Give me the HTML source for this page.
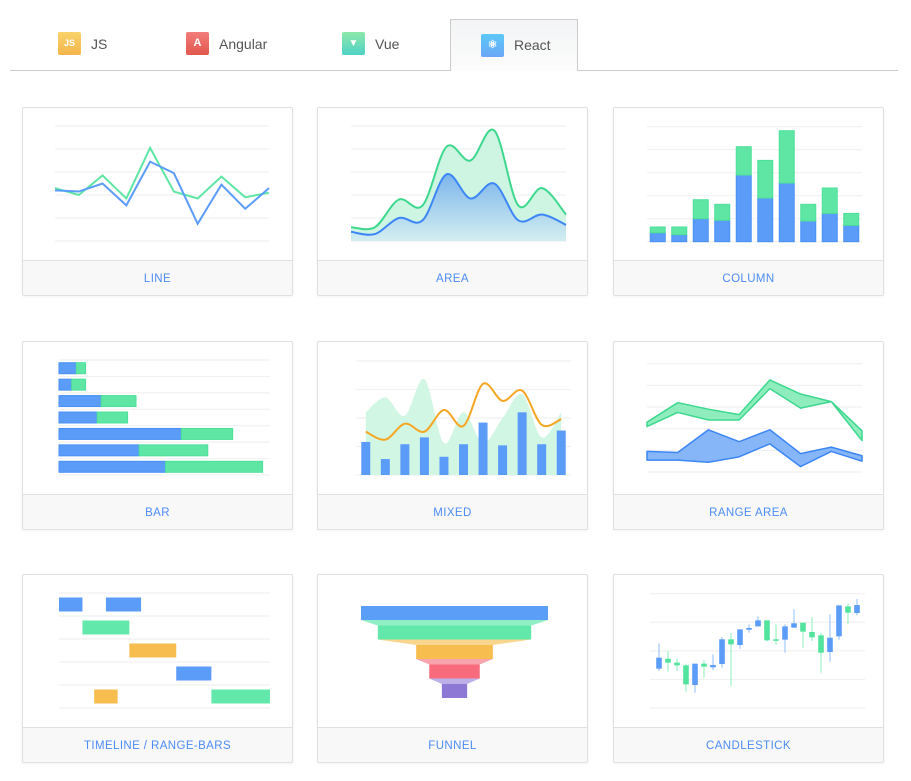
<!DOCTYPE html>
<html><head><meta charset="utf-8"><style>
*{box-sizing:border-box;margin:0;padding:0}
body{width:911px;height:781px;background:#fff;font-family:"Liberation Sans",sans-serif;position:relative;overflow:hidden}
.tabline{position:absolute;left:10px;top:70px;width:888px;height:1px;background:#ccc}
.tab{position:absolute;top:19px;height:52px;font-size:14px;color:#555;cursor:pointer}
.tab.active{left:450px;width:128px;border:1px solid #ccc;border-bottom:none;background:linear-gradient(#f3f4f5,#fcfcfc)}
.ico{position:absolute;width:23px;height:23px;border-radius:2px;color:#fff;font-size:8px;font-weight:bold;text-align:center;line-height:23px}
.lbl{position:absolute}
.card{position:absolute;width:271px;height:189px;border:1px solid #e0e0e0;border-radius:2px;background:#fff;box-shadow:0 1px 3px rgba(0,0,0,0.05)}
.card svg{position:absolute;left:0;top:0}
.foot{position:absolute;left:0;top:152px;width:269px;height:35px;background:#f8f8f8;border-top:1px solid #e0e0e0;text-align:center;line-height:36px;font-size:11.5px;color:#4d8cf5;letter-spacing:.4px;cursor:pointer}
</style></head><body>
<div class="tabline"></div>
<div class="tab" style="left:40px;width:100px"><div class="ico" style="left:18px;top:13px;background:linear-gradient(#f8d36a,#f3b54c);font-size:9px">JS</div><span class="lbl" style="left:51px;top:17px">JS</span></div>
<div class="tab" style="left:170px;width:120px"><div class="ico" style="left:16px;top:13px;background:linear-gradient(#f27d7b,#e2574c);font-size:11px">A</div><span class="lbl" style="left:49px;top:17px">Angular</span></div>
<div class="tab" style="left:325px;width:100px"><div class="ico" style="left:17px;top:13px;background:linear-gradient(#8de8a9,#4fd2c6);font-size:10px">▼</div><span class="lbl" style="left:50px;top:17px">Vue</span></div>
<div class="tab active"><div class="ico" style="left:30px;top:14px;background:linear-gradient(#5cc8f8,#6aa6f6);font-size:11px">⚛</div><span class="lbl" style="left:63px;top:17px">React</span></div>

<div class="card" style="left:22px;top:107px"><svg id="c1" width="271" height="152"></svg><div class="foot">LINE</div></div>
<div class="card" style="left:317px;top:107px"><svg id="c2" width="271" height="152"></svg><div class="foot">AREA</div></div>
<div class="card" style="left:613px;top:107px"><svg id="c3" width="271" height="152"></svg><div class="foot">COLUMN</div></div>
<div class="card" style="left:22px;top:341px"><svg id="c4" width="271" height="152"></svg><div class="foot">BAR</div></div>
<div class="card" style="left:317px;top:341px"><svg id="c5" width="271" height="152"></svg><div class="foot">MIXED</div></div>
<div class="card" style="left:613px;top:341px"><svg id="c6" width="271" height="152"></svg><div class="foot">RANGE AREA</div></div>
<div class="card" style="left:22px;top:574px"><svg id="c7" width="271" height="152"></svg><div class="foot">TIMELINE / RANGE-BARS</div></div>
<div class="card" style="left:317px;top:574px"><svg id="c8" width="271" height="152"></svg><div class="foot">FUNNEL</div></div>
<div class="card" style="left:613px;top:574px"><svg id="c9" width="271" height="152"></svg><div class="foot">CANDLESTICK</div></div>

<script>
// ---- data ----
const lineBlue=[44,43,50,31,69,59,15,49,28,46];
const lineGreen=[46,40,57,37,81,43,37,56,38,42];
const areaGreen=[12,12,36,31,82,70,96,31,46,23];
const areaBlue=[8,6,20,18,58,37,50,18,23,14];
const colBlue=[7.8,6.1,20,18.6,58,38,51,18,24.6,14.2];
const colGreen=[5,6.7,16.5,13.9,24.6,32.7,45.5,14.5,22.1,10.4];
const barBlue=[8.2,6,20,18.1,58,38,50.5];
const barGreen=[4.4,6.6,16.5,14.4,24.3,32.5,46];
const mixBars=[29,14,27,33,16,27,46,26,55,27,39];
const mixArea=[55,68,52,84,28,55,28,50,71,33,55];
const mixLine=[38,31,45,38,57,43,80,65,74,44,49];
const rangeGreenHi=[46,64,58,53,85,72,65,38];
const rangeGreenLo=[42,55,48,48,77,59,65,29];
const rangeBlueHi=[19,18,39,28,39,17,23,15];
const rangeBlueLo=[11,11,9,14,26,5,19,10];
const tlRows=[0,0,1,2,3,4,4];
const tlStart=[0,4,2,6,10,3,13];
const tlEnd=[2,7,6,10,13,5,18];
const tlColor=['b','b','g','o','b','o','g'];
const funnelVals=[100,82,41,27,13.5];
const cOpen=[34.4,43.1,39.7,37.3,20.1,38.8,35.6,38.5,60.1,55.1,68.5,71.4,76.7,60.1,59.8,70.3,74.6,66.5,63.6,49,62.7,88.9,83.1];
const cClose=[44,39.7,37.3,20.7,38.8,36.2,37.6,60.1,55.7,68.8,70,76.7,59.2,58.9,71.4,74.1,66.8,61.8,48.4,61.5,89.8,83.4,90.1];
const cHigh=[56.6,49.9,43.4,38.8,38.8,41.7,46.9,62.1,65.6,68.8,73.2,80.2,76.7,73.2,73.2,86.3,74.6,79.6,65.6,81.9,89.8,91.5,95.3];
const cLow=[32.4,31.8,32.4,14.3,13.4,26.5,33.2,35.3,19.2,51.9,65.9,71.4,58.3,55.1,48.4,70.3,52.8,58.6,30.9,40.5,59.8,73.2,81];

const NS='http://www.w3.org/2000/svg';
const BLUE='#5b9cf8',BLUES='#3d86f5',GREEN='#5fe6a4',GREENS='#3dd88e',ORANGE='#f7bd4f';
function el(svg,tag,attrs){const e=document.createElementNS(NS,tag);for(const k in attrs)e.setAttribute(k,attrs[k]);svg.appendChild(e);return e;}
function lin(d0,d1,r0,r1){return v=>r0+(v-d0)/(d1-d0)*(r1-r0);}
function hgrid(svg,x0,x1,y0,y1,n){for(let i=0;i<=n;i++){const y=y0+(y1-y0)*i/n;const l=el(svg,'line',{x1:x0,x2:x1,y1:y,y2:y,stroke:'#f1f1f1','stroke-width':1.2});

}}
function smooth(p){let d=`M${p[0][0]},${p[0][1]}`;for(let i=0;i<p.length-1;i++){const a=p[Math.max(0,i-1)],b=p[i],c=p[i+1],e=p[Math.min(p.length-1,i+2)];
d+=` C${b[0]+(c[0]-a[0])/6},${b[1]+(c[1]-a[1])/6} ${c[0]-(e[0]-b[0])/6},${c[1]-(e[1]-b[1])/6} ${c[0]},${c[1]}`;}return d;}
function poly(p){return 'M'+p.map(q=>q[0]+','+q[1]).join(' L');}

// LINE
(function(){const s=document.getElementById('c1');hgrid(s,32,246,18,133,5);
const x=lin(0,lineBlue.length-1,32,246),y=lin(0,100,133,18);
const g=el(s,'path',{d:poly(lineGreen.map((v,i)=>[x(i),y(v)])),fill:'none',stroke:GREEN,'stroke-width':2});


const b=el(s,'path',{d:poly(lineBlue.map((v,i)=>[x(i),y(v)])),fill:'none',stroke:BLUE,'stroke-width':2});

})();

// AREA
(function(){const s=document.getElementById('c2');hgrid(s,33,248,18,133,5);
const defs=el(s,'defs',{});const lg=el(defs,'linearGradient',{id:'ag',x1:0,y1:0,x2:0,y2:1});el(lg,'stop',{offset:0,'stop-color':'#7cb5ec'});el(lg,'stop',{offset:1,'stop-color':'#d3eef0'});
const x=lin(0,areaGreen.length-1,33,248),y=lin(0,100,133,18);
const gp=areaGreen.map((v,i)=>[x(i),y(v)]),bp=areaBlue.map((v,i)=>[x(i),y(v)]);
const ga=el(s,'path',{d:smooth(gp)+` L248,133 L33,133 Z`,fill:'#cdf5e2'});


const ba=el(s,'path',{d:smooth(bp)+` L248,133 L33,133 Z`,fill:'url(#ag)'});


const gl=el(s,'path',{d:smooth(gp),fill:'none',stroke:GREENS,'stroke-width':2});


const bl=el(s,'path',{d:smooth(bp),fill:'none',stroke:BLUES,'stroke-width':2});

})();

// COLUMN
(function(){const s=document.getElementById('c3');hgrid(s,33,248,18.7,133.7,5);
const bw=215/colBlue.length,y=lin(0,100,133.7,18.7);
colBlue.forEach((v,i)=>{const cx=33+bw*(i+.5);
const r=el(s,'rect',{x:cx-7.5,y:y(v),width:15,height:133.7-y(v),fill:BLUE,stroke:'#4a90f6','stroke-width':1});


const t=v+colGreen[i];const r2=el(s,'rect',{x:cx-7.5,y:y(t),width:15,height:y(v)-y(t),fill:GREEN,stroke:'#4de09a','stroke-width':1});

});})();

// BAR
(function(){const s=document.getElementById('c4');hgrid(s,36,247,18,133,7);
const bh=115/barBlue.length,x=lin(0,100,36,247);
barBlue.forEach((v,i)=>{const cy=18+bh*(i+.5);
const r=el(s,'rect',{x:36,y:cy-5.5,width:x(v)-36,height:11,fill:BLUE,stroke:'#4a90f6'});


const r2=el(s,'rect',{x:x(v),y:cy-5.5,width:x(v+barGreen[i])-x(v),height:11,fill:GREEN,stroke:'#4de09a'});

});})();

// MIXED
(function(){const s=document.getElementById('c5');hgrid(s,38,253,19,133,4);
const bw=215/mixBars.length,y=lin(0,100,133,19),cx=i=>38+bw*(i+.5);
const ap=mixArea.map((v,i)=>[cx(i),y(v)]);
const a=el(s,'path',{d:smooth(ap)+` L${cx(mixArea.length-1)},133 L${cx(0)},133 Z`,fill:'#d2f6e4'});


mixBars.forEach((v,i)=>{const r=el(s,'rect',{x:cx(i)-4.5,y:y(v),width:9,height:133-y(v),fill:BLUE});

});
const l=el(s,'path',{d:smooth(mixLine.map((v,i)=>[cx(i),y(v)])),fill:'none',stroke:'#f5a623','stroke-width':2});

})();

// RANGE AREA
(function(){const s=document.getElementById('c6');hgrid(s,33,248,21.7,130,5);
const x=lin(0,rangeGreenHi.length-1,33,248),y=lin(0,100,130,21.7);
function band(hi,lo,fill,stroke,name){const p=hi.map((v,i)=>[x(i),y(v)]).concat(lo.map((v,i)=>[x(i),y(v)]).reverse());
const e=el(s,'path',{d:poly(p)+' Z',fill:fill,stroke:stroke,'stroke-width':1.5,'stroke-linejoin':'round'});

}
band(rangeGreenHi,rangeGreenLo,'#8eecbd',GREENS,'range-green');
band(rangeBlueHi,rangeBlueLo,'#86b6f8',BLUES,'range-blue');})();

// TIMELINE
(function(){const s=document.getElementById('c7');hgrid(s,36,247,18,133,5);
const rh=23,x=lin(0,18,36,247),cols={b:BLUE,g:'#62e8aa',o:ORANGE};
tlRows.forEach((r,i)=>{const cy=18+rh*(r+.5);
const e=el(s,'rect',{x:x(tlStart[i]),y:cy-7,width:x(tlEnd[i])-x(tlStart[i]),height:14,fill:cols[tlColor[i]]});

});})();

// FUNNEL
(function(){const s=document.getElementById('c8');
const cols=['#5b9ef8','#62e8aa','#f7bd4f','#f76b7c','#8e78d6'],light=['#9cc4fa','#90efc4','#f9d68f','#f8a4ae','#bdb0e8'];
const w=v=>v*1.87,c=136.5,step=19.5,bh=14,top=31;
funnelVals.forEach((v,i)=>{const yy=top+i*step;
if(i>0){const pw=w(funnelVals[i-1]),cw=w(v),py=yy-step+bh;
const t=el(s,'path',{d:`M${c-pw/2},${py} L${c+pw/2},${py} L${c+cw/2},${yy} L${c-cw/2},${yy} Z`,fill:light[i]});

}
const r=el(s,'rect',{x:c-w(v)/2,y:yy,width:w(v),height:bh,fill:cols[i]});

});})();

// CANDLESTICK
(function(){const s=document.getElementById('c9');hgrid(s,36,251,18.7,133,4);
const y=lin(0,100,133,18.7),bw=9;
cOpen.forEach((o,i)=>{const cx=40.5+bw*(i+.5),c=cClose[i],up=c>=o,col=up?BLUE:'#52e39c';
const w=el(s,'line',{x1:cx,x2:cx,y1:y(cHigh[i]),y2:y(cLow[i]),stroke:up?'#a9cbfb':'#a6f0cb','stroke-width':1.3});


const b=el(s,'rect',{x:cx-2.8,y:y(Math.max(o,c)),width:5.6,height:Math.max(1.5,Math.abs(y(o)-y(c))),fill:col});

});})();
</script>
</body></html>
